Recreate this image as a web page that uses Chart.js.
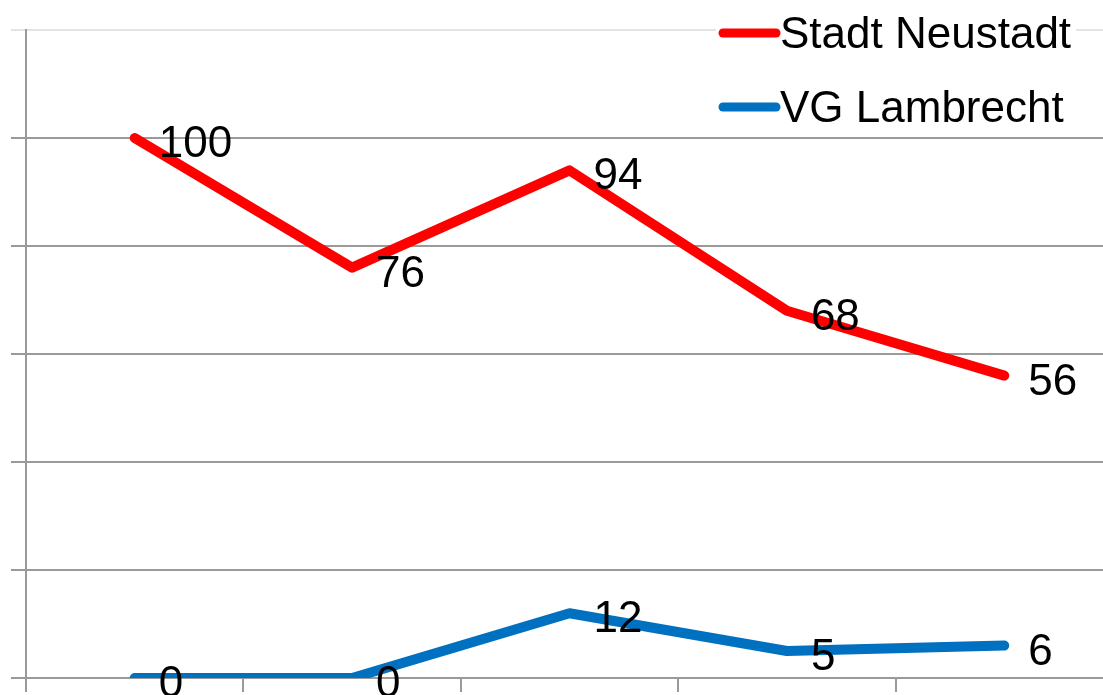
<!DOCTYPE html>
<html lang="de">
<head>
    <meta charset="UTF-8">
    <title>Stadt Neustadt / VG Lambrecht</title>
    <script src="https://cdn.jsdelivr.net/npm/chart.js@4.4.1/dist/chart.umd.min.js"></script>
    <style>
        html, body { margin: 0; padding: 0; background: #fff; overflow: hidden; }
        #wrap { width: 1103px; height: 695px; overflow: hidden; }
    </style>
</head>
<body>
    <div id="wrap">
        <canvas id="lineChart" width="1113" height="695"></canvas>
    </div>

    <script>
        // chart data
        const categories = ['1', '2', '3', '4', '5'];
        const neustadtValues = [100, 76, 94, 68, 56];
        const lambrechtValues = [0, 0, 12, 5, 6];
        const seriesNames = ['Stadt Neustadt', 'VG Lambrecht'];
        const yTicks = [0, 20, 40, 60, 80, 100, 120];

        const FONT = '44px "Liberation Sans", Arial, sans-serif';

        // value labels to the right of every point
        const valueLabels = {
            id: 'valueLabels',
            afterDatasetsDraw(chart) {
                const ctx = chart.ctx;
                ctx.save();
                ctx.font = FONT;
                ctx.fillStyle = '#000';
                ctx.textAlign = 'left';
                ctx.textBaseline = 'alphabetic';
                chart.data.datasets.forEach((ds, i) => {
                    chart.getDatasetMeta(i).data.forEach((pt, j) => {
                        ctx.fillText(String(ds.data[j]), pt.x + 24, pt.y + 19);
                    });
                });
                ctx.restore();
            }
        };

        // legend in the top right corner, over the plot
        const cornerLegend = {
            id: 'cornerLegend',
            afterDraw(chart) {
                const ctx = chart.ctx;
                ctx.save();
                ctx.fillStyle = '#fff';
                ctx.fillRect(716, 10, 360, 118);
                ctx.font = FONT;
                ctx.textBaseline = 'alphabetic';
                chart.data.datasets.forEach((ds, i) => {
                    const y = 33 + i * 74;
                    ctx.strokeStyle = ds.borderColor;
                    ctx.lineWidth = 9;
                    ctx.lineCap = 'round';
                    ctx.beginPath();
                    ctx.moveTo(723, y);
                    ctx.lineTo(776, y);
                    ctx.stroke();
                    ctx.fillStyle = '#000';
                    ctx.fillText(ds.label, 780, y + 15);
                });
                ctx.restore();
            }
        };

        const ctx = document.getElementById('lineChart').getContext('2d');
        new Chart(ctx, {
            type: 'line',
            data: {
                labels: categories,
                datasets: [{
                    label: seriesNames[0],
                    data: neustadtValues,
                    borderColor: '#FF0000',
                    backgroundColor: '#FF0000',
                    borderWidth: 10,
                    borderCapStyle: 'round',
                    borderJoinStyle: 'round',
                    pointRadius: 0,
                    tension: 0
                }, {
                    label: seriesNames[1],
                    data: lambrechtValues,
                    borderColor: '#0070C0',
                    backgroundColor: '#0070C0',
                    borderWidth: 10,
                    borderCapStyle: 'round',
                    borderJoinStyle: 'round',
                    pointRadius: 0,
                    tension: 0
                }]
            },
            options: {
                responsive: false,
                animation: false,
                devicePixelRatio: 1,
                layout: { padding: { left: 11, top: 30, right: 0, bottom: 3 } },
                plugins: {
                    legend: { display: false },
                    tooltip: { enabled: false }
                },
                scales: {
                    x: {
                        offset: true,
                        grid: {
                            offset: true,
                            drawOnChartArea: false,
                            drawTicks: true,
                            tickLength: 14,
                            color: '#9a9a9a',
                            lineWidth: 2
                        },
                        border: { display: true, color: '#9a9a9a', width: 2 },
                        ticks: { display: false }
                    },
                    y: {
                        min: 0,
                        max: 120,
                        afterBuildTicks(scale) {
                            scale.ticks = yTicks.map(v => ({ value: v }));
                        },
                        grid: {
                            drawTicks: true,
                            tickLength: 15,
                            color: c => c.tick && c.tick.value === 120 ? '#e4e4e4' : '#9a9a9a',
                            lineWidth: 2
                        },
                        border: { display: true, color: '#9a9a9a', width: 2 },
                        ticks: { display: false }
                    }
                }
            },
            plugins: [valueLabels, cornerLegend]
        });
    </script>
</body>
</html>
